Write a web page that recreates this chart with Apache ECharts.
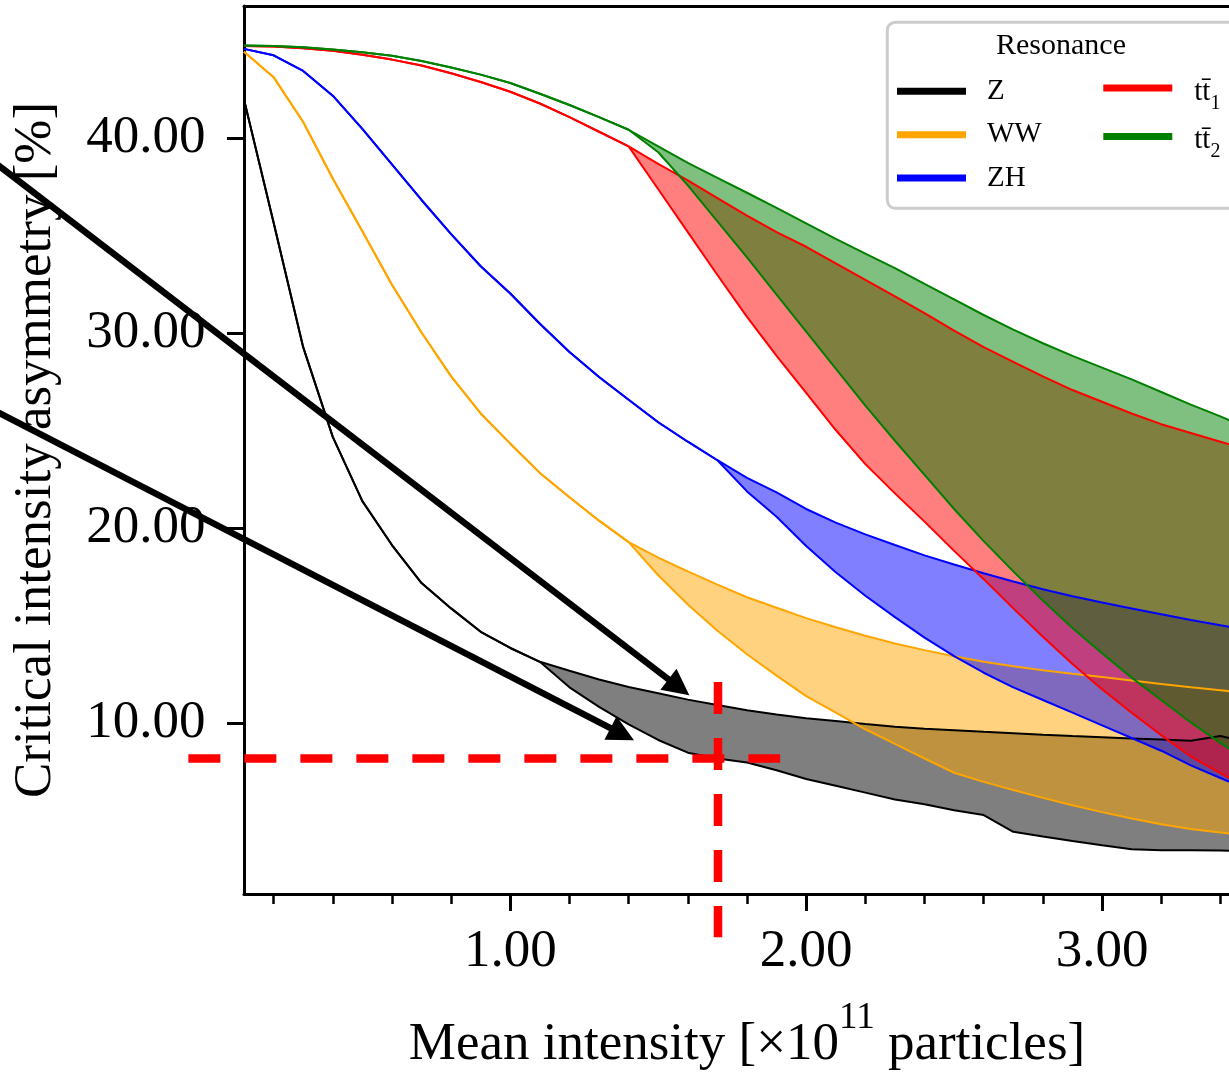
<!DOCTYPE html>
<html>
<head>
<meta charset="utf-8">
<title>Critical intensity asymmetry</title>
<style>
  html, body { margin: 0; padding: 0; background: #ffffff; }
  #chart { width: 1229px; height: 1072px; }
</style>
<script src="https://cdn.jsdelivr.net/npm/echarts@6/dist/echarts.min.js"></script>
</head>
<body>
<div id="chart"></div>
<script>
// Mean bunch intensity [1e11 particles]
const intensity = [0.1, 0.2, 0.3, 0.4, 0.5, 0.6, 0.7, 0.8, 0.9, 1.0,
                   1.1, 1.2, 1.3, 1.4, 1.5, 1.6, 1.7, 1.8, 1.9, 2.0,
                   2.1, 2.2, 2.3, 2.4, 2.5, 2.6, 2.7, 2.8, 2.9, 3.0,
                   3.1, 3.2, 3.3, 3.4, 3.5];

// Critical intensity asymmetry [%], upper and lower bounds per resonance
const zUpper = [42.0, 35.7, 29.3, 24.7, 21.4, 19.15, 17.2, 15.9, 14.7, 13.87,
                13.16, 12.7, 12.25, 11.87, 11.55, 11.22, 10.95, 10.68, 10.46, 10.27,
                10.12, 9.97, 9.83, 9.73, 9.65, 9.57, 9.5, 9.42, 9.35, 9.29,
                9.23, 9.17, 9.11, 9.35, 9.0];
const zLower = [42.0, 35.7, 29.3, 24.7, 21.4, 19.15, 17.2, 15.9, 14.7, 13.87,
                13.16, 11.85, 10.85, 9.95, 9.15, 8.5, 8.2, 8.0, 7.6, 7.15,
                6.8, 6.45, 6.1, 5.85, 5.55, 5.3, 4.44, 4.2, 3.97, 3.75,
                3.54, 3.5, 3.5, 3.48, 3.45];

const wwUpper = [44.45, 43.15, 40.85, 37.95, 35.25, 32.5, 30.05, 27.8, 25.9, 24.35,
                 22.85, 21.6, 20.4, 19.3, 18.5, 17.8, 17.12, 16.47, 15.93, 15.4,
                 14.93, 14.5, 14.1, 13.76, 13.45, 13.16, 12.93, 12.73, 12.55, 12.38,
                 12.2, 12.02, 11.85, 11.7, 11.55];
const wwLower = [44.45, 43.15, 40.85, 37.95, 35.25, 32.5, 30.05, 27.8, 25.9, 24.35,
                 22.85, 21.6, 20.4, 19.3, 17.6, 16.1, 14.75, 13.55, 12.45, 11.4,
                 10.55, 9.7, 8.95, 8.2, 7.47, 7.0, 6.58, 6.18, 5.8, 5.45,
                 5.12, 4.83, 4.58, 4.4, 4.22];

const zhUpper = [44.6, 44.27, 43.47, 42.2, 40.5, 38.68, 36.85, 35.1, 33.45, 32.05,
                 30.5, 29.05, 27.77, 26.6, 25.45, 24.45, 23.5, 22.6, 21.85, 21.0,
                 20.3, 19.7, 19.15, 18.62, 18.15, 17.7, 17.28, 16.88, 16.52, 16.2,
                 15.9, 15.6, 15.3, 15.03, 14.78];
const zhLower = [44.6, 44.27, 43.47, 42.2, 40.5, 38.68, 36.85, 35.1, 33.45, 32.05,
                 30.5, 29.05, 27.77, 26.6, 25.45, 24.45, 23.5, 21.9, 20.6, 19.1,
                 17.75, 16.55, 15.45, 14.4, 13.45, 12.6, 11.85, 11.2, 10.55, 9.9,
                 9.25, 8.6, 7.85, 7.2, 6.55];

const tt1Upper = [44.75, 44.72, 44.63, 44.5, 44.3, 44.05, 43.75, 43.35, 42.9, 42.4,
                  41.8, 41.1, 40.35, 39.6, 38.7, 37.85, 36.95, 36.05, 35.2, 34.45,
                  33.6, 32.75, 31.9, 31.05, 30.15, 29.3, 28.55, 27.8, 27.1, 26.5,
                  25.9, 25.35, 24.9, 24.45, 24.0];
const tt1Lower = [44.75, 44.72, 44.63, 44.5, 44.3, 44.05, 43.75, 43.35, 42.9, 42.4,
                  41.8, 41.1, 40.35, 39.6, 37.4, 35.2, 33.0, 30.85, 28.85, 26.95,
                  25.05, 23.3, 21.8, 20.35, 18.85, 17.4, 15.9, 14.45, 13.05, 11.75,
                  10.55, 9.4, 8.3, 7.45, 6.6];

const tt2Upper = [44.78, 44.75, 44.68, 44.57, 44.43, 44.25, 43.98, 43.65, 43.28, 42.85,
                  42.3, 41.72, 41.1, 40.45, 39.6, 38.75, 37.98, 37.22, 36.45, 35.65,
                  34.85, 34.1, 33.35, 32.55, 31.75, 30.95, 30.2, 29.5, 28.85, 28.25,
                  27.65, 27.0, 26.35, 25.75, 25.1];
const tt2Lower = [44.78, 44.75, 44.68, 44.57, 44.43, 44.25, 43.98, 43.65, 43.28, 42.85,
                  42.3, 41.72, 41.1, 40.45, 39.3, 37.6, 35.75, 33.9, 32.0, 30.1,
                  28.2, 26.3, 24.5, 22.75, 21.0, 19.35, 17.8, 16.3, 14.9, 13.6,
                  12.35, 11.2, 10.05, 9.0, 8.0];

// Tick positions
const xMajorTicks = [1, 2, 3];
const xMinorTicks = [0.2, 0.4, 0.6, 0.8, 1.2, 1.4, 1.6, 1.8, 2.2, 2.4, 2.6, 2.8, 3.2, 3.4];
const yTicks = [10, 20, 30, 40];

// Annotations in data coordinates: arrows [tailX, tailY, headX, headY], guide lines [x0, y0, x1, y1]
const arrowLines = [[-1.0, 41.77, 1.601, 11.49],
                    [-1.0, 28.06, 1.413, 9.18]];
const guideLines = [[-0.088, 8.2, 1.912, 8.2],
                    [1.702, 12.13, 1.702, -0.97]];

const FONT = '"Liberation Serif", "Times New Roman", serif';

const resonances = [
  { name: 'Z',   upper: zUpper,   lower: zLower,   color: '#000000', fill: 'rgba(0,0,0,0.5)' },
  { name: 'WW',  upper: wwUpper,  lower: wwLower,  color: '#ffa500', fill: 'rgba(255,165,0,0.5)' },
  { name: 'ZH',  upper: zhUpper,  lower: zhLower,  color: '#0000ff', fill: 'rgba(0,0,255,0.5)' },
  { name: 'tt1', upper: tt1Upper, lower: tt1Lower, color: '#ff0000', fill: 'rgba(255,0,0,0.5)' },
  { name: 'tt2', upper: tt2Upper, lower: tt2Lower, color: '#008000', fill: 'rgba(0,128,0,0.5)' }
];

const series = [];

// Shaded band between the lower and upper bound of each resonance
resonances.forEach(r => {
  series.push({
    type: 'custom',
    name: r.name,
    coordinateSystem: 'cartesian2d',
    clip: true,
    silent: true,
    z: 2,
    itemStyle: { color: r.color },
    dimensions: ['x', 'y'],
    encode: { x: 0, y: 1 },
    data: [[intensity[0], r.upper[0]]],
    renderItem: (params, api) => {
      const pts = intensity.map((x, i) => api.coord([x, r.upper[i]]));
      for (let i = intensity.length - 1; i >= 0; i--) {
        pts.push(api.coord([intensity[i], r.lower[i]]));
      }
      return { type: 'polygon', shape: { points: pts }, style: { fill: r.fill, stroke: null } };
    }
  });
});

// Bound curves
resonances.forEach(r => {
  [r.upper, r.lower].forEach(vals => {
    series.push({
      type: 'line',
      name: r.name,
      data: intensity.map((x, i) => [x, vals[i]]),
      symbol: 'none',
      silent: true,
      z: 3,
      lineStyle: { color: r.color, width: 2 },
      itemStyle: { color: r.color }
    });
  });
});

// Arrows pointing at the Z band
series.push({
  type: 'custom',
  name: 'arrows',
  coordinateSystem: 'cartesian2d',
  clip: false,
  silent: true,
  z: 10,
  dimensions: ['x0', 'y0', 'x1', 'y1'],
  encode: { x: [0, 2], y: [1, 3] },
  data: arrowLines,
  renderItem: (params, api) => {
    const p0 = api.coord([api.value(0), api.value(1)]);
    const p1 = api.coord([api.value(2), api.value(3)]);
    const dx = p1[0] - p0[0], dy = p1[1] - p0[1];
    const len = Math.hypot(dx, dy), ux = dx / len, uy = dy / len;
    const headLen = 24, headHalf = 12;
    const bx = p1[0] - ux * headLen, by = p1[1] - uy * headLen;
    return {
      type: 'group',
      children: [
        { type: 'line', shape: { x1: p0[0], y1: p0[1], x2: bx + ux * 2, y2: by + uy * 2 },
          style: { stroke: '#000', lineWidth: 6.5 } },
        { type: 'polygon',
          shape: { points: [p1, [bx - uy * headHalf, by + ux * headHalf], [bx + uy * headHalf, by - ux * headHalf]] },
          style: { fill: '#000', stroke: '#000', lineWidth: 1.5, lineJoin: 'miter' } }
      ]
    };
  }
});

// Red dashed guide lines
series.push({
  type: 'custom',
  name: 'guides',
  coordinateSystem: 'cartesian2d',
  clip: false,
  silent: true,
  z: 9,
  dimensions: ['x0', 'y0', 'x1', 'y1'],
  encode: { x: [0, 2], y: [1, 3] },
  data: guideLines,
  renderItem: (params, api) => {
    const p0 = api.coord([api.value(0), api.value(1)]);
    const p1 = api.coord([api.value(2), api.value(3)]);
    return {
      type: 'line',
      shape: { x1: p0[0], y1: p0[1], x2: p1[0], y2: p1[1] },
      style: { stroke: '#ff0000', lineWidth: 8.5, lineDash: [32, 24], lineCap: 'butt' }
    };
  }
});

const legendText = { fontFamily: FONT, fontSize: 29, lineHeight: 29, color: '#000' };

function plainLegend(name, left, centerY) {
  const r = resonances.find(d => d.name === name);
  return {
    data: [{ name: name, itemStyle: { color: r.color } }],
    left: left, top: centerY - 18.5,
    orient: 'vertical', padding: 0,
    itemWidth: 69, itemHeight: 7, icon: 'rect',
    selectedMode: false, z: 6,
    itemStyle: { borderWidth: 0 },
    textStyle: Object.assign({}, legendText, { padding: [8, 0, 0, 16] })
  };
}

function topLegend(name, sub, left, centerY) {
  const r = resonances.find(d => d.name === name);
  return {
    data: [{ name: name, itemStyle: { color: r.color } }],
    left: left, top: centerY - 25.4,
    orient: 'vertical', padding: 0,
    itemWidth: 69, itemHeight: 7, icon: 'rect',
    selectedMode: false, z: 6,
    itemStyle: { borderWidth: 0 },
    formatter: () => '{t|t' + 't\u0304' + '}{s|' + sub + '}',
    textStyle: Object.assign({}, legendText, {
      padding: [15.3, 0, 0, 17],
      rich: {
        t: { fontFamily: FONT, fontSize: 29, lineHeight: 29, color: '#000', padding: [0, 0, 6.5, 0] },
        s: { fontFamily: FONT, fontSize: 20, lineHeight: 20, color: '#000', padding: [15.5, 0, 0, 0] }
      }
    })
  };
}

const axisBlack = { color: '#000', width: 3 };

const option = {
  animation: false,
  backgroundColor: '#ffffff',
  grid: { left: 244, width: 1006, top: 6, bottom: 178, containLabel: false, outerBoundsMode: 'none' },
  xAxis: [
    {
      type: 'value', min: 0.1, max: 3.5, position: 'bottom',
      axisLine: { show: true, onZero: false, lineStyle: axisBlack },
      axisTick: { show: true, customValues: xMajorTicks, length: 17, inside: false, lineStyle: axisBlack },
      axisLabel: { show: true, customValues: xMajorTicks, margin: 32, color: '#000',
                   fontFamily: FONT, fontSize: 53, formatter: v => v.toFixed(2) },
      splitLine: { show: false },
      name: '{a|Mean intensity [×10}{s|11}{a| particles]}',
      nameLocation: 'middle', nameGap: 115,
      nameTextStyle: {
        color: '#000', fontFamily: FONT,
        rich: {
          a: { fontFamily: FONT, fontSize: 53, lineHeight: 53, color: '#000', padding: [19, 0, 0, 0] },
          s: { fontFamily: FONT, fontSize: 37, lineHeight: 37, color: '#000', padding: [0, 0, 35, 0] }
        }
      }
    },
    {
      type: 'value', min: 0.1, max: 3.5, position: 'bottom',
      axisLine: { show: false, onZero: false },
      axisTick: { show: true, customValues: xMinorTicks, length: 10, lineStyle: { color: '#000', width: 2.5 } },
      axisLabel: { show: false },
      splitLine: { show: false }
    },
    {
      type: 'value', min: 0.1, max: 3.5, position: 'top',
      axisLine: { show: true, onZero: false, lineStyle: axisBlack },
      axisTick: { show: false }, axisLabel: { show: false }, splitLine: { show: false }
    }
  ],
  yAxis: {
    type: 'value', min: 1.25, max: 46.8,
    axisLine: { show: true, onZero: false, lineStyle: axisBlack },
    axisTick: { show: true, customValues: yTicks, length: 17, lineStyle: axisBlack },
    axisLabel: { show: true, customValues: yTicks, margin: 38.5, color: '#000',
                 fontFamily: FONT, fontSize: 53, formatter: v => v.toFixed(2) },
    splitLine: { show: false },
    name: 'Critical intensity asymmetry [%]',
    nameLocation: 'middle', nameGap: 181,
    nameTextStyle: { color: '#000', fontFamily: FONT, fontSize: 53, lineHeight: 53 }
  },
  legend: [
    plainLegend('Z', 897, 91.3),
    plainLegend('WW', 897, 134.7),
    plainLegend('ZH', 897, 178),
    topLegend('tt1', '1', 1103.3, 91.3),
    topLegend('tt2', '2', 1103.3, 139.7)
  ],
  graphic: [
    { type: 'rect', z: 4, silent: true,
      shape: { x: 887.3, y: 22.3, width: 400, height: 186, r: 8 },
      style: { fill: 'rgba(255,255,255,0.8)', stroke: '#cccccc', lineWidth: 3 } },
    { type: 'text', z: 6, silent: true, x: 1061, y: 46,
      style: { text: 'Resonance', font: '30px "Liberation Serif", serif', fill: '#000',
               align: 'center', verticalAlign: 'middle' } }
  ],
  series: series
};

const chart = echarts.init(document.getElementById('chart'), null, { renderer: 'canvas' });
chart.setOption(option);
</script>
</body>
</html>
